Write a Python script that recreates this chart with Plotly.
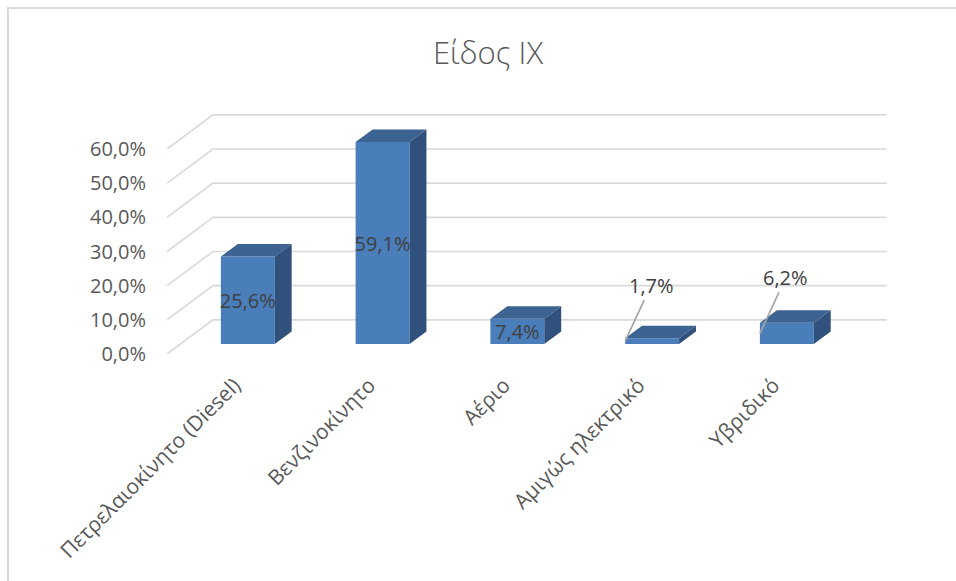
import plotly.graph_objects as go

# --- data -------------------------------------------------------------
categories = ["Πετρελαιοκίνητο (Diesel)", "Βενζινοκίνητο", "Αέριο",
              "Αμιγώς ηλεκτρικό", "Υβριδικό"]
shares = [25.6, 59.1, 7.4, 1.7, 6.2]
y_ticks = [0, 10, 20, 30, 40, 50, 60]
title_text = "Είδος ΙΧ"

# --- styling / 3D projection ------------------------------------------
W, H = 956, 581
M_L, M_R, M_T, M_B = 167, 68, 108, 227
X_RANGE = [-0.5, 4.85]
Y_RANGE = [0, 72]

DEPTH_X = 0.341      # shift of the back wall along the category axis
DEPTH_Y = 10.0       # shift of the back wall along the value axis
BAR_FRONT = 0.292    # depth fraction of the bar front faces
BAR_BACK = 0.66      # depth fraction of the bar back faces
BAR_WIDTH = 0.4
FLOOR_LEFT, FLOOR_RIGHT = -0.5, 4.5

FRONT_COL = "#4a7ebb"
TOP_COL = "#3c6391"
SIDE_COL = "#30517c"
GRID_COL = "#d9d9d9"
AXIS_TXT = "#595959"
LABEL_TXT = "#404040"
FONT = "Open Sans"


def fmt(v):
    return f"{v:.1f}".replace(".", ",") + "%"


fx0, fy0 = BAR_FRONT * DEPTH_X, BAR_FRONT * DEPTH_Y
dxb = (BAR_BACK - BAR_FRONT) * DEPTH_X
dyb = (BAR_BACK - BAR_FRONT) * DEPTH_Y

fig = go.Figure()

# front faces of the columns
inside = [v >= 7 for v in shares]
fig.add_trace(go.Bar(
    x=[i + fx0 for i in range(len(shares))],
    y=shares,
    base=fy0,
    width=BAR_WIDTH,
    marker=dict(color=FRONT_COL, line=dict(width=0)),
    text=[fmt(v) if ok else "" for v, ok in zip(shares, inside)],
    textposition="inside",
    insidetextanchor="middle",
    textangle=0,
    constraintext="none",
    textfont=dict(family=FONT, size=20, color=LABEL_TXT),
    hoverinfo="skip",
))

# top and side faces of the columns
top_x, top_y, side_x, side_y = [], [], [], []
for i, v in enumerate(shares):
    xl = i + fx0 - BAR_WIDTH / 2
    xr = i + fx0 + BAR_WIDTH / 2
    top = fy0 + v
    top_x += [xl, xr, xr + dxb, xl + dxb, xl, None]
    top_y += [top, top, top + dyb, top + dyb, top, None]
    side_x += [xr, xr + dxb, xr + dxb, xr, xr, None]
    side_y += [fy0, fy0 + dyb, top + dyb, top, fy0, None]

fig.add_trace(go.Scatter(x=top_x, y=top_y, fill="toself", fillcolor=TOP_COL,
                         mode="lines", line=dict(width=0), hoverinfo="skip"))
fig.add_trace(go.Scatter(x=side_x, y=side_y, fill="toself", fillcolor=SIDE_COL,
                         mode="lines", line=dict(width=0), hoverinfo="skip"))

# slanted gridlines: left wall then back wall
for t in y_ticks:
    fig.add_shape(
        type="path",
        path=(f"M {FLOOR_LEFT},{t} L {FLOOR_LEFT + DEPTH_X},{t + DEPTH_Y} "
              f"L {FLOOR_RIGHT + DEPTH_X},{t + DEPTH_Y}"),
        xref="x", yref="y", layer="below",
        line=dict(color=GRID_COL, width=1.6),
    )

# callout labels for the small columns
for i, (v, ok) in enumerate(zip(shares, inside)):
    if ok:
        continue
    fig.add_annotation(
        x=i + fx0 - BAR_WIDTH / 2, y=fy0 + v / 2,
        xref="x", yref="y",
        text=fmt(v), showarrow=True, arrowhead=0, arrowwidth=1.7,
        arrowcolor="#a6a6a6", ax=26, ay=-56, standoff=0,
        font=dict(family=FONT, size=20, color=LABEL_TXT),
    )

# chart frame
plot_w = W - M_L - M_R
plot_h = H - M_T - M_B
fig.add_shape(
    type="rect", xref="paper", yref="paper",
    x0=(8 - M_L) / plot_w, x1=1.3,
    y0=-1.2, y1=(H - M_B - 8) / plot_h,
    line=dict(color=GRID_COL, width=2), fillcolor="rgba(0,0,0,0)",
    layer="below",
)

fig.update_layout(
    width=W, height=H,
    margin=dict(l=M_L, r=M_R, t=M_T, b=M_B),
    paper_bgcolor="white", plot_bgcolor="white",
    showlegend=False,
    title=dict(text=title_text, x=488 / W, xref="container", xanchor="center",
               y=1 - 53 / H, yref="container", yanchor="middle",
               font=dict(family=FONT, size=31, color=AXIS_TXT, weight=300)),
    xaxis=dict(range=X_RANGE, tickvals=list(range(len(categories))),
               ticktext=categories, tickangle=-45, showgrid=False,
               zeroline=False, showline=False, ticks="",
               ticklabelstandoff=14,
               tickfont=dict(family=FONT, size=21, color=AXIS_TXT)),
    yaxis=dict(range=Y_RANGE, tickvals=y_ticks,
               ticktext=[fmt(t) for t in y_ticks],
               showgrid=False, zeroline=False,
               showline=False, ticks="", ticklabelstandoff=20,
               tickfont=dict(family=FONT, size=20, color=AXIS_TXT)),
)

fig.write_html("out.html")
